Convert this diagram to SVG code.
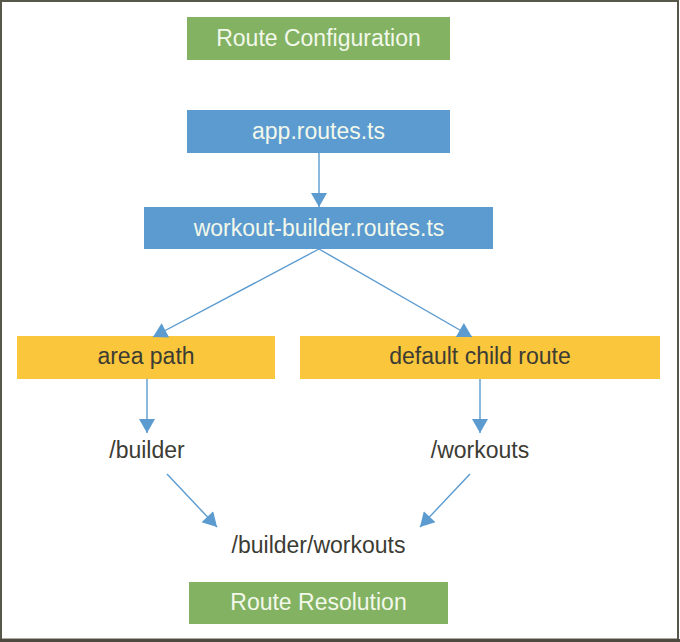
<svg xmlns="http://www.w3.org/2000/svg" width="680" height="642" viewBox="0 0 680 642">
  <style>
    .green { fill: #82b262; }
    .blue { fill: #5b9bd0; }
    .yellow { fill: #fac63b; }
    text { font-family: "Liberation Sans", Arial, sans-serif; font-size: 23px; text-anchor: middle; }
    .light { fill: #f2f8ea; }
    .dark { fill: #3c3c34; }
    .conn { stroke: #5b9bd0; stroke-width: 1.4; fill: none; marker-end: url(#arrow); }
  </style>
  <defs>
    <marker id="arrow" markerUnits="userSpaceOnUse" markerWidth="16" markerHeight="16" viewBox="0 0 14 16" refX="14" refY="8" orient="auto">
      <path d="M0,0 L14,8 L0,16 Z" fill="#5b9bd0"/>
    </marker>
  </defs>
  <rect x="0" y="0" width="680" height="642" fill="#ffffff"/>
  <rect x="1" y="1" width="677" height="638.5" fill="none" stroke="#58584a" stroke-width="2"/>
  <line x1="0" y1="640.5" x2="680" y2="640.5" stroke="#4f4a3f" stroke-width="3"/>

  <g id="route-configuration">
    <rect class="green" x="187" y="17" width="263" height="43"/>
    <text class="light" x="318.5" y="46">Route Configuration</text>
  </g>
  <g id="app-routes">
    <rect class="blue" x="187" y="110" width="263" height="43"/>
    <text class="light" x="318.5" y="139">app.routes.ts</text>
  </g>
  <g id="workout-builder-routes">
    <rect class="blue" x="144" y="207" width="349" height="42"/>
    <text class="light" x="319" y="236">workout-builder.routes.ts</text>
  </g>
  <g id="area-path">
    <rect class="yellow" x="17" y="336" width="258" height="43"/>
    <text class="dark" x="146" y="364">area path</text>
  </g>
  <g id="default-child-route">
    <rect class="yellow" x="300" y="336" width="360" height="43"/>
    <text class="dark" x="480" y="364">default child route</text>
  </g>
  <g id="builder">
    <text class="dark" x="147" y="458">/builder</text>
  </g>
  <g id="workouts">
    <text class="dark" x="480" y="458">/workouts</text>
  </g>
  <g id="builder-workouts">
    <text class="dark" x="318.5" y="553">/builder/workouts</text>
  </g>
  <g id="route-resolution">
    <rect class="green" x="189" y="582" width="259" height="42"/>
    <text class="light" x="318.5" y="610">Route Resolution</text>
  </g>

  <g id="connectors">
    <line class="conn" x1="319" y1="153" x2="319" y2="207"/>
    <line class="conn" x1="319" y1="249" x2="153" y2="337"/>
    <line class="conn" x1="319" y1="249" x2="472" y2="337"/>
    <line class="conn" x1="147" y1="379" x2="147" y2="433"/>
    <line class="conn" x1="480" y1="379" x2="480" y2="433"/>
    <line class="conn" x1="167" y1="474" x2="217" y2="527"/>
    <line class="conn" x1="470" y1="474" x2="420" y2="527"/>
  </g>
</svg>
